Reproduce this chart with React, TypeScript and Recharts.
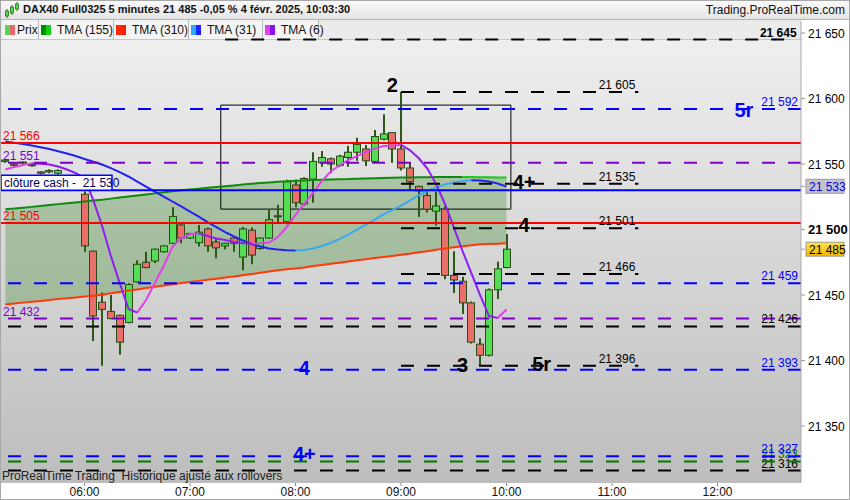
import React from 'react';
import {
  ComposedChart, Bar, Line, Area, XAxis, YAxis, ReferenceLine, ReferenceArea, ReferenceDot,
} from 'recharts';

const FONT = '"Liberation Sans", Arial, sans-serif';

// 5-minute slots, 0 = 06:00
const FIRST_SLOT = -9;
const LAST_SLOT = 81;
const HOUR_SLOTS = [0, 12, 24, 36, 48, 60, 72];
const HOUR_LABELS = ['06:00', '07:00', '08:00', '09:00', '10:00', '11:00', '12:00'];
const Y_TICKS = [21350, 21400, 21450, 21500, 21550, 21600, 21650];

const OPEN = [21552, 21550, 21551, 21549.5, 21544, 21544, 21543, 21540, 21535, 21527, 21483.5, 21444.5, 21437.5, 21434.5, 21429, 21460, 21475, 21476, 21483, 21489.5, 21503.5, 21493.5, 21490, 21500.5, 21490.5, 21487.5, 21493.5, 21479, 21499.5, 21485.5, 21493.5, 21510, 21506, 21534, 21519.5, 21538.5, 21551, 21554, 21549, 21555, 21559, 21561.5, 21552, 21569, 21574, 21561.5, 21547, 21533, 21526, 21514, 21515.5, 21465, 21460.5, 21444, 21412.5, 21404, 21454, 21471];
const HIGH = [21554, 21550.5, 21552, 21550, 21544.5, 21546, 21546, 21541, 21536, 21529, 21484, 21452, 21450, 21435, 21459, 21476.5, 21483, 21485.5, 21488, 21517, 21504, 21497.5, 21503.5, 21501.5, 21493.5, 21490, 21494, 21502, 21501.5, 21494, 21515, 21519, 21538, 21538, 21540, 21559, 21560, 21555, 21557, 21564, 21570, 21564.5, 21576, 21588, 21574.5, 21605, 21551, 21533.5, 21529.5, 21529, 21518, 21483.5, 21464, 21445, 21417, 21455, 21475.5, 21496.5];
const LOW = [21551, 21548, 21550, 21548, 21542, 21543, 21542, 21535, 21530, 21483, 21415, 21396, 21431.5, 21404.5, 21428.5, 21459.5, 21470.5, 21474.5, 21482.5, 21489, 21489.5, 21493, 21487, 21483, 21478, 21485, 21483, 21469, 21473.5, 21484.5, 21493, 21505.5, 21504, 21517, 21518, 21520.5, 21548, 21543, 21548, 21548, 21552.5, 21548.5, 21551.5, 21568, 21551, 21545, 21530, 21509.5, 21513, 21503, 21462, 21451.5, 21435.5, 21413, 21396, 21403, 21447, 21470.5];
const CLOSE = [21553, 21549, 21551.5, 21549, 21543, 21545, 21545, 21536, 21532, 21487.5, 21434, 21439, 21432, 21414, 21458, 21473.5, 21471, 21485, 21487.5, 21510, 21493.5, 21497, 21498, 21487.5, 21486, 21489.5, 21489.5, 21500.5, 21480.5, 21493.5, 21507.5, 21510.5, 21536.5, 21520.5, 21539, 21552, 21555, 21550, 21556, 21559, 21565, 21552.5, 21571, 21573, 21561.5, 21547, 21536.5, 21529.5, 21515.5, 21518, 21465, 21461.5, 21444, 21414, 21404, 21454, 21470, 21485];

const TMA155 = [21515.5, 21516, 21516.7, 21517.3, 21518, 21518.7, 21519.4, 21520, 21520.7, 21521.4, 21522.1, 21522.7, 21523.6, 21524.4, 21525.2, 21526, 21526.8, 21527.6, 21528.4, 21529.2, 21529.9, 21530.6, 21531.2, 21531.9, 21532.5, 21533.1, 21533.7, 21534.3, 21534.9, 21535.5, 21536, 21536.5, 21536.9, 21537.3, 21537.5, 21537.8, 21538, 21538.2, 21538.4, 21538.5, 21538.8, 21538.9, 21539.1, 21539.3, 21539.5, 21539.7, 21539.8, 21539.9, 21540, 21540.1, 21540.2, 21540.2, 21540.2, 21540.1, 21540, 21539.9, 21539.8, 21539.7];
const TMA310 = [21442.8, 21443.5, 21444.2, 21444.8, 21445.5, 21446.2, 21446.9, 21447.6, 21448.1, 21448.8, 21449.5, 21450.3, 21451.3, 21452.3, 21453.4, 21454.3, 21455.3, 21456.3, 21457.2, 21458.1, 21459.1, 21459.9, 21460.8, 21461.6, 21462.4, 21463.3, 21464.1, 21465.1, 21466, 21467, 21467.9, 21468.9, 21469.6, 21470.3, 21471.1, 21472.1, 21472.9, 21473.8, 21474.7, 21475.6, 21476.5, 21477.3, 21478.2, 21479, 21479.8, 21480.7, 21481.6, 21482.6, 21483.5, 21484.5, 21485.5, 21486.4, 21487.2, 21488, 21488.8, 21489, 21489.2, 21489.5];
const TMA31 = [21567.2, 21566.3, 21565.3, 21564.1, 21562.8, 21561.5, 21559.8, 21558.1, 21556.1, 21553.8, 21551.7, 21549.6, 21546.9, 21543.9, 21540.5, 21536.6, 21532.8, 21529, 21525.2, 21521.4, 21517.6, 21513.7, 21509.9, 21505.7, 21501.9, 21498.1, 21494.7, 21491.6, 21488.9, 21487, 21485.6, 21484.7, 21484.2, 21484, 21484.4, 21485.5, 21487.4, 21489.7, 21492.7, 21496.2, 21500, 21503.8, 21507.6, 21511.5, 21514.9, 21518.3, 21522.1, 21526, 21529.4, 21532.1, 21534.4, 21535.9, 21537, 21537.6, 21537.4, 21536.6, 21535.1, 21532.8];
const TMA6 = [21545.8, 21547.7, 21549.2, 21550.5, 21550.2, 21549.6, 21548.1, 21545.8, 21543.1, 21539.3, 21522.5, 21502.7, 21479.8, 21459.2, 21439.3, 21436.6, 21446.2, 21459.2, 21472.1, 21486.6, 21493.5, 21496.6, 21496.9, 21495, 21493.1, 21492, 21490.5, 21489.5, 21489.3, 21489.5, 21490.1, 21494.3, 21501.9, 21511.1, 21519.5, 21527.9, 21537, 21544.3, 21548.9, 21553.1, 21556.1, 21559.2, 21561.8, 21563.7, 21564.2, 21564.6, 21560.7, 21554.6, 21546.6, 21534.7, 21519.5, 21501.9, 21483.6, 21466.8, 21450, 21434, 21432.4, 21438.9];

// levels
const BLUE_DASHED = [21592, 21459, 21393, 21327];
const PURPLE_DASHED = [21551, 21432];
const BLACK_DASHED = [21426, 21316];
const GREEN_DASHED = [21323];
const RED_SOLID = [21566, 21505];
const CASH_CLOSE = 21530;
const SHORT_LEVELS = [21605, 21535, 21501, 21466, 21396];
const SHORT_FROM = 36;
const SHORT_TO = 63;
const TOP_LEVEL = 21645;
const TOP_FROM = 16;
const TOP_TO = 81;
const BOX_SLOTS = [16, 48];
const BOX_VALUES = [21515.6, 21595];

const ANN_TEXT = ['2', '5r', '4+', '4', '3', '5r', '4', '4+'];
const ANN_SLOT = [35, 75, 50, 50, 43, 52, 25, 25];
const ANN_VALUE = [21610.3, 21591.2, 21536.3, 21503.4, 21396.6, 21397.3, 21394.3, 21328.6];
const ANN_BLUE = [false, true, false, false, false, false, true, true];

const LAST_CLOSE = Math.round(CLOSE[CLOSE.length - 1]);
const LAST_MA31 = Math.round(TMA31[TMA31.length - 1]);

const BLUE = '#0000ff';
const PURPLE = '#7b00c8';
const RED = '#ff0000';
const GREEN_LVL = '#007a00';

const fmt = (v: number) => Math.round(v).toString().replace(/\B(?=(\d{3})+(?!\d))/g, ' ');

function splitTrend(vals: number[]) {
  return vals.map((v, i) => {
    const prevUp = i > 0 && v >= vals[i - 1];
    const nextUp = i < vals.length - 1 && vals[i + 1] >= v;
    const prevDn = i > 0 && v < vals[i - 1];
    const nextDn = i < vals.length - 1 && vals[i + 1] < v;
    return { up: prevUp || nextUp ? v : null, dn: prevDn || nextDn ? v : null };
  });
}

const s155 = splitTrend(TMA155);
const s310 = splitTrend(TMA310);
const s31 = splitTrend(TMA31);
const s6 = splitTrend(TMA6);

const SLOTS = Array.from({ length: LAST_SLOT - FIRST_SLOT + 1 }, (_, i) => FIRST_SLOT + i);
const rows = SLOTS.map((slot) => {
  const i = slot - FIRST_SLOT;
  if (i >= CLOSE.length) return { slot };
  return {
    slot,
    open: OPEN[i], high: HIGH[i], low: LOW[i], close: CLOSE[i],
    range: [LOW[i], HIGH[i]],
    band: [TMA310[i], TMA155[i]],
    m155Up: s155[i].up, m155Dn: s155[i].dn,
    m310Up: s310[i].up, m310Dn: s310[i].dn,
    m31Up: s31[i].up, m31Dn: s31[i].dn,
    m6Up: s6[i].up, m6Dn: s6[i].dn,
  };
});

function Candle(props: any) {
  const { x, y, width, height, payload } = props;
  if (!payload || payload.open == null) return null;
  const { open, close, high, low } = payload;
  const top = Math.min(y, y + height);
  const h = Math.abs(height);
  const span = high - low;
  const py = (v: number) => (span > 0 ? top + ((high - v) / span) * h : top);
  const cx = Math.round(x + width / 2);
  const up = close >= open;
  const bTop = py(Math.max(open, close));
  const bBot = py(Math.min(open, close));
  return (
    <g>
      <line x1={cx} x2={cx} y1={top} y2={top + h} stroke="#2b5a16" strokeWidth={2} />
      <rect x={cx - 3.5} y={bTop} width={7} height={Math.max(bBot - bTop, 1)}
        fill={up ? '#55dd55' : '#e86f6a'} stroke="#2b4a16" strokeWidth={1} />
    </g>
  );
}

function LevelLabel(props: any) {
  const { viewBox, text, side, fill, bold } = props;
  if (!viewBox) return null;
  const tx = side === 'left' ? viewBox.x + 2 : viewBox.x + viewBox.width - (bold ? 0 : 3);
  return (
    <text x={tx} y={viewBox.y - 3} textAnchor={side === 'left' ? 'start' : 'end'}
      fontSize={12} fontFamily={FONT} fill={fill} fontWeight={bold ? 'bold' : 'normal'}>
      {text}
    </text>
  );
}

function CashLabel(props: any) {
  const { viewBox } = props;
  if (!viewBox) return null;
  return (
    <g>
      <rect x={viewBox.x} y={viewBox.y - 15} width={111} height={15} fill="#ffffff" stroke={BLUE} strokeWidth={1.5} />
      <text x={viewBox.x + 3} y={viewBox.y - 3.5} fontSize={12} fontFamily={FONT} fill="#000060" style={{ whiteSpace: 'pre' }}>
        {`clôture cash -  ${fmt(CASH_CLOSE)}`}
      </text>
    </g>
  );
}

function Annot(props: any) {
  const { viewBox, text, fill } = props;
  if (!viewBox) return null;
  return (
    <text x={viewBox.x + viewBox.width / 2} y={viewBox.y + viewBox.height / 2} textAnchor="middle"
      dominantBaseline="central" fontSize={20} fontWeight="bold" fontFamily={FONT} fill={fill}>
      {text}
    </text>
  );
}

function YTick(props: any) {
  const { x, y, payload } = props;
  const v = payload.value;
  if (v === LAST_CLOSE || v === LAST_MA31) {
    const gold = v === LAST_CLOSE;
    return (
      <g>
        <rect x={x - 2} y={y - 7} width={38} height={14} fill={gold ? 'url(#goldBox)' : '#c4c4c4'} stroke="#9a9a9a" />
        <text x={x + 1} y={y + 4.5} fontSize={12} fontFamily={FONT} fill={gold ? '#000' : BLUE}>{fmt(v)}</text>
      </g>
    );
  }
  const strong = v === 21500;
  return (
    <text x={x} y={y + 4.5} fontSize={strong ? 13 : 12} fontWeight={strong ? 'bold' : 'normal'}
      fontFamily={FONT} fill="#000">{fmt(v)}</text>
  );
}

const LEGEND = [
  { label: 'Prix', c1: '#55d655', c2: '#e46a6a', w: 36 },
  { label: 'TMA (155)', c1: '#008c00', c2: '#10d010', w: 75 },
  { label: 'TMA (310)', c1: '#ff2a00', c2: '#ff2000', w: 75 },
  { label: 'TMA (31)', c1: '#30a8f0', c2: '#2020ff', w: 74 },
  { label: 'TMA (6)', c1: '#e040f0', c2: '#8a10f0', w: 56 },
];

export default function App() {
  return (
    <div style={{ position: 'absolute', left: 0, top: 0, width: 850, height: 500, overflow: 'hidden', fontFamily: FONT, background: '#fff' }}>
      {/* plot background */}
      <div style={{ position: 'absolute', left: 0, top: 40, width: 801, height: 443, background: 'linear-gradient(#efefef, #bdbdbd)' }} />
      {/* title bar */}
      <div style={{ position: 'absolute', left: 0, top: 0, width: 850, height: 20, background: 'linear-gradient(#fbfbfb, #e4e4e4)', borderBottom: '1px solid #b4b4b4', boxSizing: 'border-box' }}>
        <svg width={16} height={18} style={{ position: 'absolute', left: 4, top: 1 }}>
          <line x1={3} x2={3} y1={8} y2={17} stroke="#2b6a16" />
          <rect x={1.5} y={10} width={3} height={5} fill="#55dd55" stroke="#2b6a16" strokeWidth={0.8} />
          <line x1={8} x2={8} y1={4} y2={14} stroke="#2b6a16" />
          <rect x={6.5} y={6} width={3} height={6} fill="#55dd55" stroke="#2b6a16" strokeWidth={0.8} />
          <line x1={13} x2={13} y1={1} y2={10} stroke="#2b6a16" />
          <rect x={11.5} y={3} width={3} height={5} fill="#55dd55" stroke="#2b6a16" strokeWidth={0.8} />
        </svg>
        <div style={{ position: 'absolute', left: 23, top: 3, fontSize: 11, fontWeight: 'bold', color: '#111', whiteSpace: 'nowrap' }}>
          DAX40 Full0325 5 minutes 21 485 -0,05 % 4 févr. 2025, 10:03:30
        </div>
        <div style={{ position: 'absolute', right: 5, top: 3, fontSize: 12, color: '#111', whiteSpace: 'nowrap' }}>
          Trading.ProRealTime.com
        </div>
      </div>
      {/* legend strip */}
      <div style={{ position: 'absolute', left: 0, top: 20, width: 801, height: 20, background: '#ebebeb', borderBottom: '1px solid #c6c6c6', boxSizing: 'border-box', display: 'flex', paddingLeft: 3 }}>
        {LEGEND.map((l) => (
          <div key={l.label} style={{ width: l.w, height: 19, background: '#f4f4f4', borderRight: '1px solid #b8b8b8', position: 'relative', boxSizing: 'border-box' }}>
            <div style={{ position: 'absolute', left: 2, top: 5, width: 5, height: 10, background: l.c1 }} />
            <div style={{ position: 'absolute', left: 7, top: 5, width: 5, height: 10, background: l.c2 }} />
            <div style={{ position: 'absolute', left: l.label === 'Prix' ? 14 : 18, top: 3, fontSize: 12, color: '#111', whiteSpace: 'nowrap' }}>{l.label}</div>
          </div>
        ))}
      </div>
      <div style={{ position: 'absolute', left: 0, top: 0 }}>
        <ComposedChart width={850} height={500} data={rows} margin={{ top: 21, right: 4, bottom: 0, left: 1 }}>
          <defs>
            <linearGradient id="goldBox" x1="0" y1="0" x2="0" y2="1">
              <stop offset="0%" stopColor="#ffe24a" />
              <stop offset="100%" stopColor="#f2b800" />
            </linearGradient>
          </defs>
          <XAxis dataKey="slot" type="category" ticks={HOUR_SLOTS} axisLine={false} interval={0}
            tickFormatter={(s: number) => HOUR_LABELS[HOUR_SLOTS.indexOf(s)] ?? ''}
            tick={{ fontSize: 12, fill: '#111', fontFamily: FONT }} tickLine={{ stroke: '#888' }}
            tickSize={3} tickMargin={1} height={17} />
          <YAxis orientation="right" type="number" domain={[21306.5, 21659.2]} allowDataOverflow interval={0}
            ticks={[...Y_TICKS, LAST_CLOSE, LAST_MA31]} width={45} tick={<YTick />}
            axisLine={{ stroke: '#aaaaaa' }} tickLine={{ stroke: '#999' }} tickSize={4} tickMargin={3} />

          <Area dataKey="band" type="linear" stroke="none" fill="#4a8f3a" fillOpacity={0.35} isAnimationActive={false} />
          <Bar dataKey="range" barSize={7} shape={<Candle />} isAnimationActive={false} />

          <Line dataKey="m310Up" stroke="#ff3a0a" strokeWidth={2} dot={false} isAnimationActive={false} />
          <Line dataKey="m310Dn" stroke="#ff0000" strokeWidth={2} dot={false} isAnimationActive={false} />
          <Line dataKey="m155Up" stroke="#0f8a0f" strokeWidth={2} dot={false} isAnimationActive={false} />
          <Line dataKey="m155Dn" stroke="#14cc14" strokeWidth={2} dot={false} isAnimationActive={false} />
          <Line dataKey="m31Up" stroke="#3aa8f0" strokeWidth={2} dot={false} isAnimationActive={false} />
          <Line dataKey="m31Dn" stroke="#2222ee" strokeWidth={2} dot={false} isAnimationActive={false} />
          <Line dataKey="m6Up" stroke="#e040e8" strokeWidth={2} dot={false} isAnimationActive={false} />
          <Line dataKey="m6Dn" stroke="#8f1cf0" strokeWidth={2} dot={false} isAnimationActive={false} />

          {RED_SOLID.map((v) => (
            <ReferenceLine key={`r${v}`} y={v} stroke={RED} strokeWidth={2}
              label={<LevelLabel text={fmt(v)} side="left" fill={RED} />} />
          ))}
          <ReferenceLine y={CASH_CLOSE} stroke={BLUE} strokeWidth={2} label={<CashLabel />} />
          {PURPLE_DASHED.map((v) => (
            <ReferenceLine key={`p${v}`} y={v} stroke={PURPLE} strokeWidth={2} strokeDasharray="13 13"
              label={<LevelLabel text={fmt(v)} side="left" fill={PURPLE} />} />
          ))}
          {BLACK_DASHED.map((v) => (
            <ReferenceLine key={`k${v}`} y={v} stroke="#000" strokeWidth={2} strokeDasharray="13 13"
              label={<LevelLabel text={fmt(v)} side="right" fill="#000" />} />
          ))}
          {GREEN_DASHED.map((v) => (
            <ReferenceLine key={`g${v}`} y={v} stroke={GREEN_LVL} strokeWidth={2} strokeDasharray="13 13"
              label={<LevelLabel text={fmt(v)} side="right" fill={GREEN_LVL} />} />
          ))}
          {BLUE_DASHED.map((v) => (
            <ReferenceLine key={`b${v}`} y={v} stroke={BLUE} strokeWidth={2} strokeDasharray="13 13"
              label={<LevelLabel text={fmt(v)} side="right" fill={BLUE} />} />
          ))}
          {SHORT_LEVELS.map((v) => (
            <ReferenceLine key={`s${v}`} segment={[{ x: SHORT_FROM, y: v }, { x: SHORT_TO, y: v }]}
              stroke="#000" strokeWidth={2} strokeDasharray="13 13"
              label={<LevelLabel text={fmt(v)} side="right" fill="#000" />} />
          ))}
          <ReferenceLine segment={[{ x: TOP_FROM, y: TOP_LEVEL }, { x: TOP_TO, y: TOP_LEVEL }]}
            stroke="#000" strokeWidth={2} strokeDasharray="13 13"
            label={<LevelLabel text={fmt(TOP_LEVEL)} side="right" fill="#000" bold />} />

          <ReferenceArea x1={BOX_SLOTS[0]} x2={BOX_SLOTS[1]} y1={BOX_VALUES[0]} y2={BOX_VALUES[1]}
            fill="none" stroke="#000" strokeWidth={1} />

          {ANN_TEXT.map((t, i) => (
            <ReferenceDot key={`a${i}`} x={ANN_SLOT[i]} y={ANN_VALUE[i]} r={1} fill="none" stroke="none"
              label={<Annot text={t} fill={ANN_BLUE[i] ? BLUE : '#000'} />} />
          ))}
        </ComposedChart>
      </div>
      <div style={{ position: 'absolute', left: 2, top: 469, fontSize: 12, color: '#222', whiteSpace: 'nowrap' }}>
        ProRealTime Trading&nbsp; Historique ajusté aux rollovers
      </div>
      <div style={{ position: 'absolute', left: 0, top: 0, width: 850, height: 500, border: '1px solid #a8a8a8', boxSizing: 'border-box', pointerEvents: 'none' }} />
    </div>
  );
}
